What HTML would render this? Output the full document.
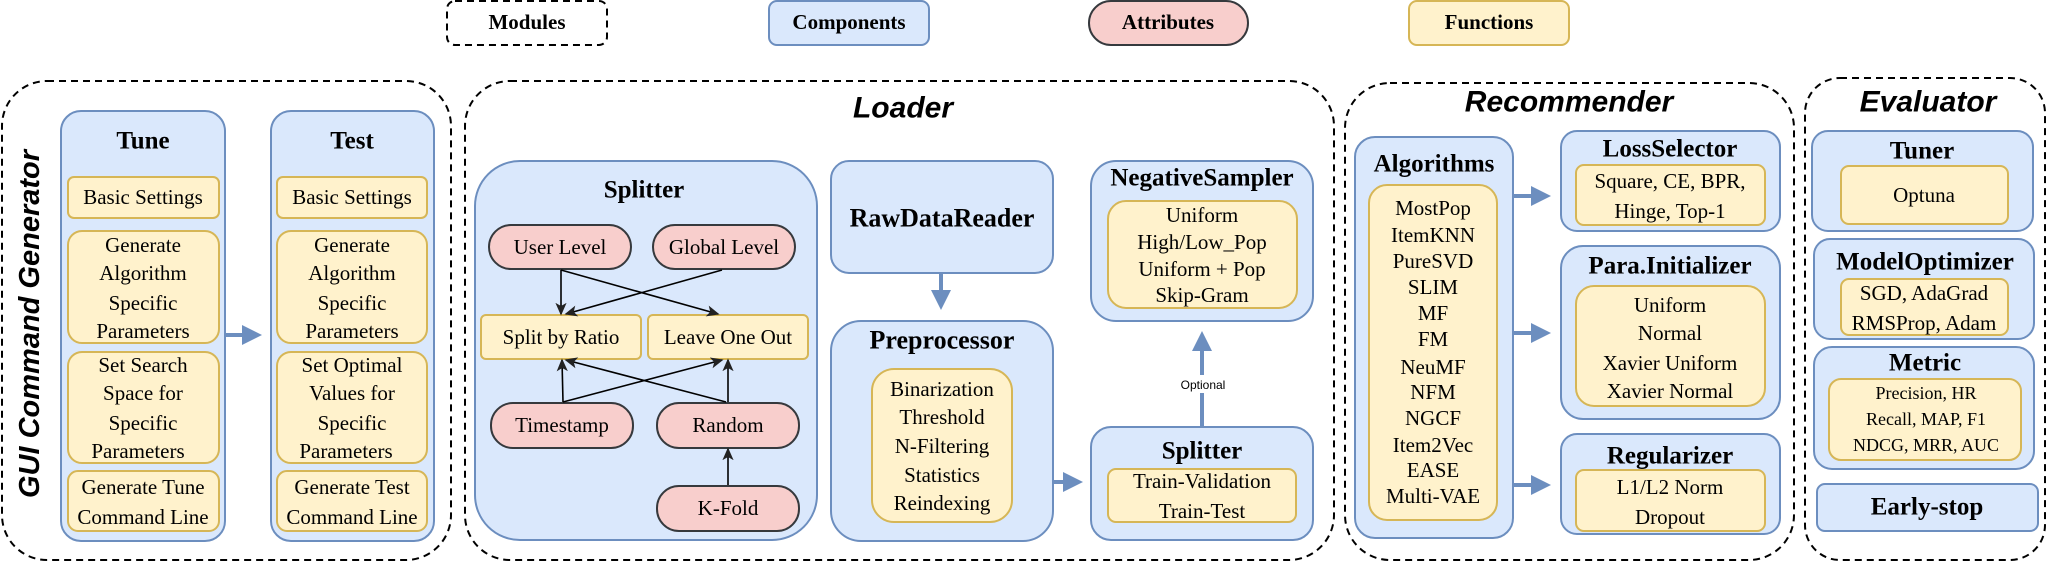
<!DOCTYPE html>
<html><head><meta charset="utf-8"><style>
html,body{margin:0;padding:0;background:#fff;}
svg{display:block;}
.t{font-family:"Liberation Serif",serif;font-size:21px;fill:#000;text-anchor:middle;dominant-baseline:central;}
.b{font-family:"Liberation Serif",serif;font-weight:bold;font-size:25px;fill:#000;text-anchor:middle;dominant-baseline:central;}
.h{font-family:"Liberation Sans",sans-serif;font-weight:bold;font-style:italic;font-size:30px;fill:#000;text-anchor:middle;dominant-baseline:central;}
.bl{fill:#dae8fc;stroke:#6c8ebf;stroke-width:2;}
.ye{fill:#fff2cc;stroke:#d6b656;stroke-width:2;}
.pk{fill:#f8cecc;stroke:#36393d;stroke-width:2;}
.ds{fill:none;stroke:#000;stroke-width:2;stroke-dasharray:7 5;}
.ba{stroke:#6c8ebf;stroke-width:4;fill:none;}
.ka{stroke:#000;stroke-width:1.6;fill:none;}
</style></head><body>
<svg width="2048" height="564" viewBox="0 0 2048 564" xmlns="http://www.w3.org/2000/svg">
<defs>
<marker id="bh" markerWidth="5" markerHeight="5" refX="4" refY="2.5" orient="auto" markerUnits="strokeWidth"><path d="M0,0 L5,2.5 L0,5 Z" fill="#6c8ebf"/></marker>
<marker id="kh" markerWidth="8" markerHeight="8" refX="7" refY="4" orient="auto" markerUnits="strokeWidth"><path d="M0,0.5 L8,4 L0,7.5 L2,4 Z" fill="#222"/></marker>
</defs>

<rect x="447" y="1" width="160" height="44" rx="8" class="ds"/>
<text x="527" y="22" class="b" style="font-size:21px">Modules</text>
<rect x="769" y="1" width="160" height="44" rx="8" class="bl"/>
<text x="849" y="22" class="b" style="font-size:21px">Components</text>
<rect x="1089" y="1" width="159" height="44" rx="22" class="pk"/>
<text x="1168" y="22" class="b" style="font-size:21px">Attributes</text>
<rect x="1409" y="1" width="160" height="44" rx="8" class="ye"/>
<text x="1489" y="22" class="b" style="font-size:21px">Functions</text>

<rect x="2" y="81" width="449" height="479" rx="45" class="ds"/>
<text x="30" y="324" class="h" transform="rotate(-90 30 324)" style="font-size:29px">GUI Command Generator</text>
<rect x="61" y="111" width="164" height="430" rx="20" class="bl"/>
<text x="143" y="141" class="b">Tune</text>
<rect x="68" y="177" width="151" height="41" rx="6" class="ye"/>
<text x="143" y="197" class="t">Basic Settings</text>
<rect x="68" y="231" width="151" height="112" rx="14" class="ye"/>
<text x="143" y="245" class="t">Generate</text><text x="143" y="273" class="t">Algorithm</text><text x="143" y="303" class="t">Specific</text><text x="143" y="331" class="t">Parameters</text>
<rect x="68" y="352" width="151" height="111" rx="14" class="ye"/>
<text x="143" y="365" class="t">Set Search</text><text x="143" y="393" class="t">Space for</text><text x="143" y="423" class="t">Specific</text><text x="138" y="451" class="t">Parameters</text>
<rect x="68" y="471" width="151" height="60" rx="10" class="ye"/>
<text x="143" y="487" class="t">Generate Tune</text><text x="143" y="517" class="t">Command Line</text>

<line x1="225" y1="335" x2="258" y2="335" class="ba" marker-end="url(#bh)"/>

<rect x="271" y="111" width="163" height="430" rx="20" class="bl"/>
<text x="352" y="141" class="b">Test</text>
<rect x="277" y="177" width="150" height="41" rx="6" class="ye"/>
<text x="352" y="197" class="t">Basic Settings</text>
<rect x="277" y="231" width="150" height="112" rx="14" class="ye"/>
<text x="352" y="245" class="t">Generate</text><text x="352" y="273" class="t">Algorithm</text><text x="352" y="303" class="t">Specific</text><text x="352" y="331" class="t">Parameters</text>
<rect x="277" y="352" width="150" height="111" rx="14" class="ye"/>
<text x="352" y="365" class="t">Set Optimal</text><text x="352" y="393" class="t">Values for</text><text x="352" y="423" class="t">Specific</text><text x="346" y="451" class="t">Parameters</text>
<rect x="277" y="471" width="150" height="60" rx="10" class="ye"/>
<text x="352" y="487" class="t">Generate Test</text><text x="352" y="517" class="t">Command Line</text>

<rect x="465" y="81" width="869" height="479" rx="45" class="ds"/>
<text x="903" y="108" class="h">Loader</text>

<rect x="475" y="161" width="342" height="379" rx="45" class="bl"/>
<text x="644" y="190" class="b">Splitter</text>
<rect x="489" y="225" width="142" height="44" rx="22" class="pk"/>
<text x="560" y="247" class="t">User Level</text>
<rect x="653" y="225" width="142" height="44" rx="22" class="pk"/>
<text x="724" y="247" class="t">Global Level</text>
<rect x="481" y="315" width="160" height="44" rx="5" class="ye"/>
<text x="561" y="337" class="t">Split by Ratio</text>
<rect x="648" y="315" width="160" height="44" rx="5" class="ye"/>
<text x="728" y="337" class="t">Leave One Out</text>
<rect x="491" y="403" width="142" height="45" rx="22" class="pk"/>
<text x="562" y="425" class="t">Timestamp</text>
<rect x="657" y="403" width="142" height="45" rx="22" class="pk"/>
<text x="728" y="425" class="t">Random</text>
<rect x="657" y="486" width="142" height="45" rx="22" class="pk"/>
<text x="728" y="508" class="t">K-Fold</text>
<line x1="561" y1="270" x2="561" y2="314" class="ka" marker-end="url(#kh)"/>
<line x1="561" y1="270" x2="718" y2="314" class="ka" marker-end="url(#kh)"/>
<line x1="722" y1="270" x2="566" y2="314" class="ka" marker-end="url(#kh)"/>
<line x1="563" y1="402" x2="562" y2="360" class="ka" marker-end="url(#kh)"/>
<line x1="563" y1="402" x2="722" y2="360" class="ka" marker-end="url(#kh)"/>
<line x1="728" y1="402" x2="728" y2="360" class="ka" marker-end="url(#kh)"/>
<line x1="726" y1="402" x2="566" y2="360" class="ka" marker-end="url(#kh)"/>
<line x1="728" y1="485" x2="728" y2="449" class="ka" marker-end="url(#kh)"/>

<rect x="831" y="161" width="222" height="112" rx="18" class="bl"/>
<text x="942" y="218" class="b" style="font-size:26px">RawDataReader</text>
<line x1="941" y1="273" x2="941" y2="306" class="ba" marker-end="url(#bh)"/>
<rect x="831" y="321" width="222" height="220" rx="30" class="bl"/>
<text x="942" y="340" class="b" style="font-size:26px">Preprocessor</text>
<rect x="872" y="369" width="140" height="153" rx="22" class="ye"/>
<text x="942" y="389" class="t">Binarization</text><text x="942" y="417" class="t">Threshold</text><text x="942" y="446" class="t">N-Filtering</text><text x="942" y="475" class="t">Statistics</text><text x="942" y="503" class="t">Reindexing</text>
<line x1="1053" y1="482" x2="1079" y2="482" class="ba" marker-end="url(#bh)"/>

<rect x="1091" y="161" width="222" height="160" rx="25" class="bl"/>
<text x="1202" y="178" class="b">NegativeSampler</text>
<rect x="1108" y="201" width="189" height="107" rx="18" class="ye"/>
<text x="1202" y="215" class="t">Uniform</text><text x="1202" y="242" class="t">High/Low_Pop</text><text x="1202" y="269" class="t">Uniform + Pop</text><text x="1202" y="295" class="t">Skip-Gram</text>
<line x1="1202" y1="427" x2="1202" y2="335" class="ba" marker-end="url(#bh)"/>
<rect x="1174" y="375" width="56" height="18" fill="#fff"/>
<text x="1203" y="385" style="font-family:'Liberation Sans',sans-serif;font-size:12px;text-anchor:middle;dominant-baseline:central">Optional</text>
<rect x="1091" y="427" width="222" height="113" rx="20" class="bl"/>
<text x="1202" y="451" class="b">Splitter</text>
<rect x="1108" y="469" width="188" height="53" rx="8" class="ye"/>
<text x="1202" y="481" class="t">Train-Validation</text><text x="1202" y="511" class="t">Train-Test</text>

<rect x="1345" y="83" width="449" height="477" rx="45" class="ds"/>
<text x="1569" y="102" class="h">Recommender</text>
<rect x="1355" y="137" width="158" height="401" rx="20" class="bl"/>
<text x="1434" y="164" class="b">Algorithms</text>
<rect x="1369" y="185" width="128" height="335" rx="18" class="ye"/>
<text x="1433" y="208" class="t">MostPop</text><text x="1433" y="235" class="t">ItemKNN</text><text x="1433" y="261" class="t">PureSVD</text><text x="1433" y="287" class="t">SLIM</text><text x="1433" y="313" class="t">MF</text><text x="1433" y="339" class="t">FM</text><text x="1433" y="367" class="t">NeuMF</text><text x="1433" y="392" class="t">NFM</text><text x="1433" y="418" class="t">NGCF</text><text x="1433" y="445" class="t">Item2Vec</text><text x="1433" y="470" class="t">EASE</text><text x="1433" y="496" class="t">Multi-VAE</text>
<line x1="1513" y1="196" x2="1547" y2="196" class="ba" marker-end="url(#bh)"/>
<line x1="1513" y1="333" x2="1547" y2="333" class="ba" marker-end="url(#bh)"/>
<line x1="1513" y1="485" x2="1547" y2="485" class="ba" marker-end="url(#bh)"/>

<rect x="1561" y="131" width="219" height="100" rx="16" class="bl"/>
<text x="1670" y="149" class="b">LossSelector</text>
<rect x="1576" y="165" width="189" height="60" rx="8" class="ye"/>
<text x="1670" y="181" class="t">Square, CE, BPR,</text><text x="1670" y="211" class="t">Hinge, Top-1</text>
<rect x="1561" y="246" width="219" height="173" rx="22" class="bl"/>
<text x="1670" y="266" class="b">Para.Initializer</text>
<rect x="1576" y="286" width="189" height="120" rx="18" class="ye"/>
<text x="1670" y="305" class="t">Uniform</text><text x="1670" y="333" class="t">Normal</text><text x="1670" y="363" class="t">Xavier Uniform</text><text x="1670" y="391" class="t">Xavier Normal</text>
<rect x="1561" y="434" width="219" height="100" rx="16" class="bl"/>
<text x="1670" y="456" class="b">Regularizer</text>
<rect x="1576" y="470" width="189" height="61" rx="8" class="ye"/>
<text x="1670" y="487" class="t">L1/L2 Norm</text><text x="1670" y="517" class="t">Dropout</text>

<rect x="1805" y="78" width="240" height="482" rx="35" class="ds"/>
<text x="1928" y="102" class="h">Evaluator</text>
<rect x="1812" y="131" width="221" height="100" rx="16" class="bl"/>
<text x="1922" y="151" class="b">Tuner</text>
<rect x="1841" y="166" width="167" height="58" rx="8" class="ye"/>
<text x="1924" y="195" class="t">Optuna</text>
<rect x="1814" y="239" width="220" height="100" rx="16" class="bl"/>
<text x="1925" y="262" class="b">ModelOptimizer</text>
<rect x="1841" y="279" width="167" height="56" rx="8" class="ye"/>
<text x="1924" y="293" class="t">SGD, AdaGrad</text><text x="1924" y="323" class="t">RMSProp, Adam</text>
<rect x="1814" y="347" width="220" height="122" rx="18" class="bl"/>
<text x="1925" y="363" class="b">Metric</text>
<rect x="1829" y="379" width="192" height="81" rx="12" class="ye"/>
<text x="1926" y="393" class="t" style="font-size:18px">Precision, HR</text><text x="1926" y="419" class="t" style="font-size:18px">Recall, MAP, F1</text><text x="1926" y="445" class="t" style="font-size:18px">NDCG, MRR, AUC</text>
<rect x="1817" y="484" width="221" height="47" rx="8" class="bl"/>
<text x="1927" y="507" class="b">Early-stop</text>
</svg>
</body></html>
